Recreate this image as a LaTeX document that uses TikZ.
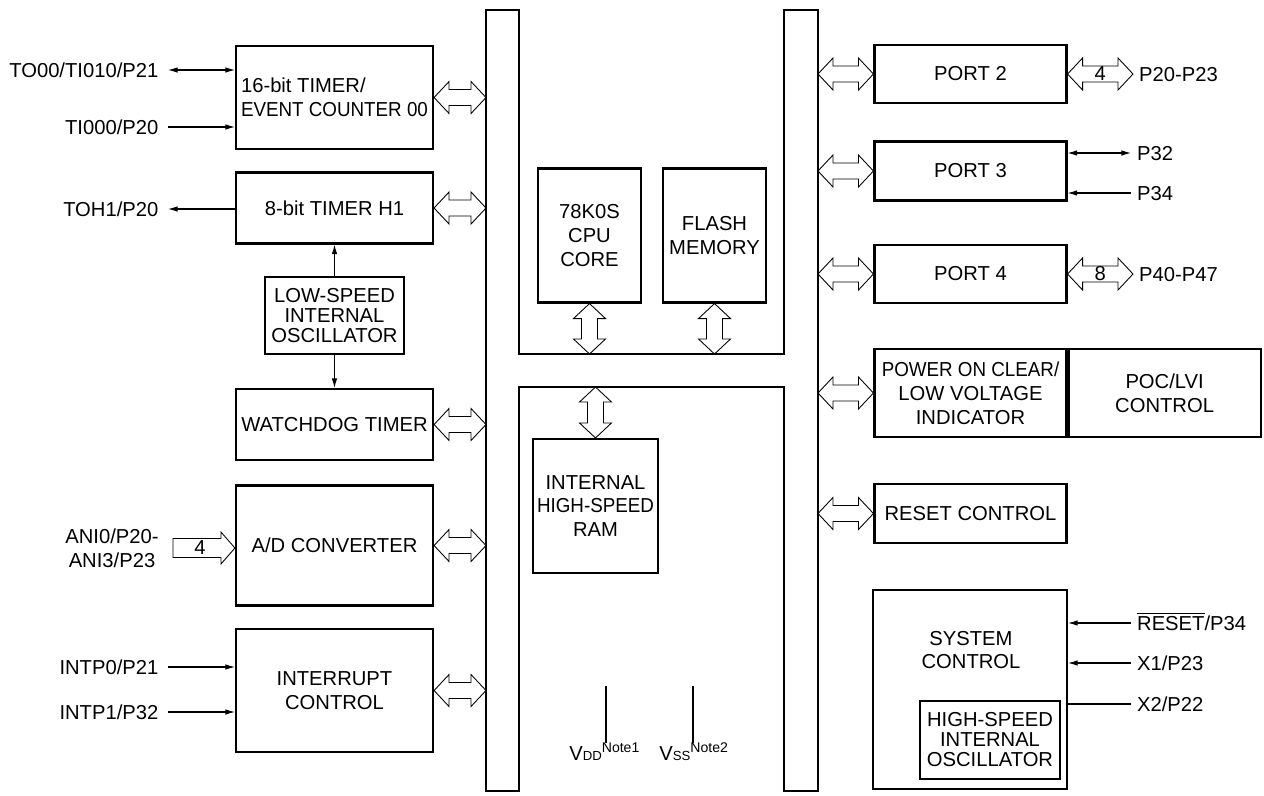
\documentclass[tikz,border=0pt]{standalone}
\usepackage{fontspec}
\setmainfont{Liberation Sans}
\usetikzlibrary{arrows.meta,calc}

\tikzset{
  blk/.style={draw,line width=1.2pt,align=center,inner sep=0pt},
  sz/.style 2 args={minimum width=#1*0.02cm,minimum height=#2*0.02cm},
  fat/.style={draw,line width=0.5pt,fill=white},
  sig/.style={line width=0.6pt},
  llbl/.style={anchor=east,inner sep=0pt,outer xsep=5.5pt,text height=8pt,text depth=0pt},
  rlbl/.style={anchor=west,inner sep=0pt,outer xsep=3.5pt,text height=8pt,text depth=0pt},
  oscfont/.style={font=\fontsize{11.5}{11.4}\selectfont},
}

% horizontal double bus arrow, left point to right point
\newcommand{\hbus}[2]{%
  \draw[fat] (#1) -- ($(#1)+(15,16)$) -- ($(#1)+(15,8)$) -- ($(#2)+(-15,8)$) -- ($(#2)+(-15,16)$)
    -- (#2) -- ($(#2)+(-15,-16)$) -- ($(#2)+(-15,-8)$) -- ($(#1)+(15,-8)$) -- ($(#1)+(15,-16)$) -- cycle;}
% vertical double bus arrow, top point to bottom point
\newcommand{\vbus}[2]{%
  \draw[fat] (#1) -- ($(#1)+(16,15)$) -- ($(#1)+(8,15)$) -- ($(#2)+(8,-15)$) -- ($(#2)+(16,-15)$)
    -- (#2) -- ($(#2)+(-16,-15)$) -- ($(#2)+(-8,-15)$) -- ($(#1)+(-8,15)$) -- ($(#1)+(-16,15)$) -- cycle;}
% single bus arrow, tail to head
\newcommand{\rbus}[2]{%
  \draw[fat] ($(#1)+(0,-9.5)$) -- ($(#2)+(-14,-9.5)$) -- ($(#2)+(-14,-16)$) -- (#2)
    -- ($(#2)+(-14,16)$) -- ($(#2)+(-14,9.5)$) -- ($(#1)+(0,9.5)$) -- cycle;}
\newcommand{\narrow}[1]{\scalebox{0.93}[1]{#1}}

\begin{document}
\begin{tikzpicture}[x=0.02cm,y=-0.02cm,font=\fontsize{11.5}{13.6}\selectfont,>={Latex[length=5.5pt,width=3.2pt]}]
  \useasboundingbox (0,0) rectangle (1264,795);

  % internal bus
  \draw[line width=0.8pt] (486,10) -- (519,10) -- (519,354) -- (784,354) -- (784,10) -- (818,10)
    -- (818,791) -- (784,791) -- (784,387) -- (519,387) -- (519,791) -- (486,791) -- cycle;
  \coordinate (lbar) at (486,0);
  \coordinate (rbar) at (818,0);
  \coordinate (ubar) at (0,354);
  \coordinate (dbar) at (0,387);

  % left blocks
  \node[blk,sz={197}{103},align=left] (t16) at (334.5,97.5) {16-bit TIMER/\\\narrow{EVENT COUNTER 00}};
  \node[blk,sz={197}{71}] (h1) at (334.5,208) {8-bit TIMER H1};
  \node[blk,sz={139}{77},oscfont] (lso) at (334.5,315.5) {LOW-SPEED\\INTERNAL\\OSCILLATOR};
  \node[blk,sz={197}{71}] (wdt) at (334.5,424.5) {WATCHDOG TIMER};
  \node[blk,sz={197}{120}] (adc) at (334.5,545.5) {A/D CONVERTER};
  \node[blk,sz={197}{123}] (intc) at (334.5,690.5) {INTERRUPT\\CONTROL};
  \draw[sig,->] (lso) -- (h1);
  \draw[sig,->] (lso) -- (wdt);
  \foreach \b in {t16,h1,wdt,adc,intc} {\hbus{\b.east}{\b.east -| lbar}}

  \node[llbl] (to00) at (168,70) {TO00/TI010/P21};
  \draw[sig,<->] (to00.east) -- (to00.east -| t16.west);
  \node[llbl] (ti000) at (168,127) {TI000/P20};
  \draw[sig,->] (ti000.east) -- (ti000.east -| t16.west);
  \node[llbl] (toh1) at (168,209) {TOH1/P20};
  \draw[sig,<-] (toh1.east) -- (toh1.east -| h1.west);
  \node[llbl] (intp0) at (168,667) {INTP0/P21};
  \node[llbl] (intp1) at (168,712) {INTP1/P32};
  \foreach \p in {intp0,intp1}
    \draw[sig,->] (\p.east) -- (\p.east -| intc.west);

  \node[align=center,inner sep=0pt] (ani) at (112,548) {ANI0/P20-\\ANI3/P23};
  \coordinate (adcin) at (173,548);
  \rbus{adcin}{adcin -| adc.west}
  \node[inner sep=0pt] (adcw) at (200,548) {4};

  % cpu, flash, ram
  \node[blk,sz={103}{134}] (core) at (589.5,235.5) {78K0S\\CPU\\CORE};
  \node[blk,sz={103}{134}] (flash) at (714.5,235.5) {FLASH\\MEMORY};
  \node[blk,sz={125}{134}] (ram) at (595.5,506) {INTERNAL\\\narrow{HIGH-SPEED}\\RAM};
  \vbus{core.south}{core.south |- ubar}
  \vbus{flash.south}{flash.south |- ubar}
  \vbus{ram.north |- dbar}{ram.north}

  \coordinate (vddpin) at (606,686);
  \coordinate (vsspin) at (693,686);
  \node[anchor=base west,inner sep=0pt] (vdd) at (569,760) {V{\fontsize{7.5}{8}\selectfont DD}\raisebox{4pt}{\fontsize{8}{8}\selectfont Note1}};
  \node[anchor=base west,inner sep=0pt] (vss) at (659,760) {V{\fontsize{7.5}{8}\selectfont SS}\raisebox{4pt}{\fontsize{8}{8}\selectfont Note2}};
  \draw[sig] (vddpin) -- (vddpin |- vdd.north);
  \draw[sig] (vsspin) -- (vsspin |- vss.north);

  % right blocks
  \node[blk,sz={192}{58}] (port2) at (970.5,74) {PORT 2};
  \node[blk,sz={192}{59}] (port3) at (970.5,171) {PORT 3};
  \node[blk,sz={192}{58}] (port4) at (970.5,274) {PORT 4};
  \node[blk,sz={192}{88}] (poc) at (970.5,393) {\narrow{POWER ON CLEAR/}\\LOW VOLTAGE\\INDICATOR};
  \node[blk,sz={192}{88},anchor=west] (pocc) at (poc.east) {POC/LVI\\CONTROL};
  \node[blk,sz={192}{59}] (rst) at (970.5,513.5) {RESET CONTROL};
  \node[blk,sz={194}{199}] (sysc) at (970,689.5) {};
  \node[align=center,inner sep=0pt] (systxt) at (971,650) {SYSTEM\\CONTROL};
  \node[blk,sz={140}{78},oscfont] (hso) at (990,740) {HIGH-SPEED\\INTERNAL\\OSCILLATOR};
  \foreach \b in {port2,port3,port4,poc,rst} {\hbus{rbar |- \b.west}{\b.west}}

  \node[rlbl] (p2pins) at (1133,74) {P20-P23};
  \hbus{port2.east}{port2.east -| p2pins.west}
  \node[inner sep=0pt] (p2w) at ($(port2.east)!.5!(port2.east -| p2pins.west)$) {4};
  \node[rlbl] (p32) at (1131,153) {P32};
  \draw[sig,<->] (port3.east |- p32.west) -- (p32.west);
  \node[rlbl] (p34) at (1131,193) {P34};
  \draw[sig,<-] (port3.east |- p34.west) -- (p34.west);
  \node[rlbl] (p4pins) at (1133,274) {P40-P47};
  \hbus{port4.east}{port4.east -| p4pins.west}
  \node[inner sep=0pt] (p4w) at ($(port4.east)!.5!(port4.east -| p4pins.west)$) {8};

  \node[rlbl] (rstpin) at (1131,623) {$\overline{\mbox{RESET}}$/P34};
  \draw[sig,<-] (sysc.east |- rstpin.west) -- (rstpin.west);
  \node[rlbl] (x1) at (1131,663) {X1/P23};
  \draw[sig,<-] (sysc.east |- x1.west) -- (x1.west);
  \node[rlbl] (x2) at (1131,704) {X2/P22};
  \draw[sig] (sysc.east |- x2.west) -- (x2.west);
\end{tikzpicture}
\end{document}
